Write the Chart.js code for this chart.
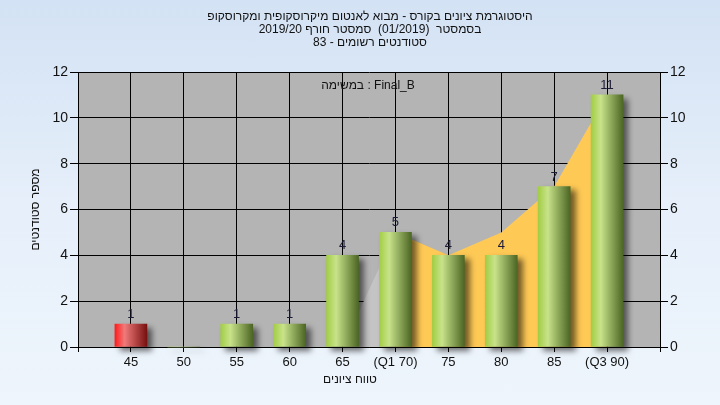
<!DOCTYPE html>
<html>
<head>
<meta charset="utf-8">
<script src="https://cdn.jsdelivr.net/npm/chart.js@4"></script>
<style>
  html, body { margin: 0; padding: 0; }
  body { width: 720px; height: 405px; background: linear-gradient(to bottom, #d3e2f4 0%, #e6effa 50%, #eef5fc 100%); overflow: hidden; }
  canvas { display: block; }
</style>
</head>
<body>
<canvas id="grades-chart" width="720" height="405"></canvas>
<script>
// grade bins (x positions 1..10 on the axis)
const gradeLabels = ['45', '50', '55', '60', '65', '(Q1 70)', '75', '80', '85', '(Q3 90)'];
const gradeValues = [45, 50, 55, 60, 65, 70, 75, 80, 85, 90];
const studentCounts = [1, 0, 1, 1, 4, 5, 4, 4, 7, 11];
// shaded curve behind the bars
const leadArea = [null, null, null, null, 0, 5, null, null, null, null];
const quartileArea = [null, null, null, null, null, 5, 4, 5, 7, 11];
const yTicks = [0, 2, 4, 6, 8, 10, 12];
const passMark = 50;

const titleLines = [
  'היסטוגרמת ציונים בקורס - מבוא לאנטום מיקרוסקופית ומקרוסקופ',
  'בסמסטר  (01/2019)  סמסטר חורף 2019/20',
  'סטודנטים רשומים - 83'
];
const taskText = 'במשימה : Final_B';
const xTitle = 'טווח ציונים';
const yTitle = 'מספר סטודנטים';

const FONT = '"Liberation Sans", Arial, "DejaVu Sans", sans-serif';

function toPoints(arr) {
  return arr.map((v, i) => ({ x: i + 1, y: v }));
}

// horizontal "cylinder" gradient for each bar
function barFill(context) {
  const chart = context.chart;
  if (!chart.chartArea || context.type !== 'data') return '#9ccc4a';
  const i = context.dataIndex;
  const cx = chart.scales.x.getPixelForValue(i + 1);
  const g = chart.ctx.createLinearGradient(cx - 16, 0, cx + 16, 0);
  if (gradeValues[i] < passMark) {
    g.addColorStop(0, '#ff1c1c');
    g.addColorStop(0.3, '#f07a7a');
    g.addColorStop(1, '#781010');
  } else {
    g.addColorStop(0, '#a2cd45');
    g.addColorStop(0.3, '#c8e38a');
    g.addColorStop(1, '#4c6624');
  }
  return g;
}

const barShadow = {
  id: 'barShadow',
  beforeDatasetDraw(chart, args) {
    if (args.meta.type !== 'bar') return;
    const ctx = chart.ctx;
    ctx.save();
    ctx.shadowColor = 'rgba(0,0,0,0.55)';
    ctx.shadowBlur = 6;
    ctx.shadowOffsetX = 5;
    ctx.shadowOffsetY = 4;
  },
  afterDatasetDraw(chart, args) {
    if (args.meta.type !== 'bar') return;
    chart.ctx.restore();
  }
};

const barLabels = {
  id: 'barLabels',
  afterDatasetsDraw(chart) {
    const ctx = chart.ctx;
    const meta = chart.getDatasetMeta(0);
    ctx.save();
    ctx.font = '13px ' + FONT;
    ctx.fillStyle = '#1c1c38';
    ctx.textAlign = 'center';
    ctx.textBaseline = 'bottom';
    meta.data.forEach((el, i) => {
      if (studentCounts[i] > 0) ctx.fillText(String(studentCounts[i]), el.x, el.y - 3);
    });
    ctx.restore();
  }
};

const textBlocks = {
  id: 'textBlocks',
  afterDraw(chart) {
    const ctx = chart.ctx;
    const area = chart.chartArea;
    const cx = (area.left + area.right) / 2;
    ctx.save();
    ctx.fillStyle = '#111';
    ctx.textAlign = 'center';
    ctx.textBaseline = 'middle';
    ctx.font = '12px ' + FONT;
    ctx.direction = 'rtl';
    titleLines.forEach((line, i) => ctx.fillText(line, cx + 1, 17 + i * 13));
    ctx.direction = 'ltr';
    ctx.fillText(taskText, cx - 1, 86);
    ctx.direction = 'rtl';
    ctx.font = '12px ' + FONT;
    ctx.fillText(xTitle, 350, 380);
    ctx.restore();
  }
};

const ctx = document.getElementById('grades-chart').getContext('2d');
window.gradesChart = new Chart(ctx, {
  data: {
    datasets: [
      {
        type: 'bar',
        label: 'students',
        data: toPoints(studentCounts),
        backgroundColor: barFill,
        borderWidth: 0,
        barThickness: 32,
        clip: false,
        order: 0
      },
      {
        type: 'line',
        label: 'quartiles',
        data: toPoints(quartileArea),
        fill: 'origin',
        backgroundColor: '#ffc955',
        borderWidth: 0,
        pointRadius: 0,
        tension: 0,
        order: 1
      },
      {
        type: 'line',
        label: 'lead',
        data: toPoints(leadArea),
        fill: 'origin',
        backgroundColor: '#c4c4c4',
        borderWidth: 0,
        pointRadius: 0,
        tension: 0,
        order: 2
      }
    ]
  },
  options: {
    responsive: false,
    animation: false,
    devicePixelRatio: 1,
    layout: { padding: { top: 72, left: 0, right: 0, bottom: 0 } },
    plugins: {
      legend: { display: false },
      tooltip: { enabled: false }
    },
    scales: {
      x: {
        type: 'linear',
        min: 0,
        max: 11,
        offset: false,
        afterFit: s => { s.height = 58; },
        afterBuildTicks: s => { s.ticks = [{ value: 0 }].concat(gradeLabels.map((l, i) => ({ value: i + 1 })), [{ value: 11 }]); },
        ticks: {
          autoSkip: false,
          maxRotation: 0,
          padding: 3,
          color: '#111',
          font: { family: FONT, size: 13 },
          callback: v => gradeLabels[v - 1] || ''
        },
        grid: { offset: false, color: '#000', lineWidth: 1, tickLength: 5, tickColor: '#000' },
        border: { color: '#000' }
      },
      y: {
        position: 'left',
        min: 0,
        max: 12,
        afterFit: s => { s.width = 78; },
        afterBuildTicks: s => { s.ticks = yTicks.map(v => ({ value: v })); },
        ticks: {
          padding: 2,
          color: '#111',
          font: { family: FONT, size: 14 }
        },
        grid: { color: '#000', lineWidth: 1, tickLength: 8, tickColor: '#000' },
        border: { color: '#000' },
        title: {
          display: true,
          text: yTitle,
          color: '#111',
          font: { family: FONT, size: 12 },
          padding: { top: 28, bottom: 0 }
        }
      },
      y2: {
        position: 'right',
        min: 0,
        max: 12,
        afterFit: s => { s.width = 60; },
        afterBuildTicks: s => { s.ticks = yTicks.map(v => ({ value: v })); },
        ticks: {
          padding: 2,
          color: '#111',
          font: { family: FONT, size: 14 }
        },
        grid: { drawOnChartArea: false, tickLength: 8, tickColor: '#000' },
        border: { color: '#000' }
      }
    }
  },
  plugins: [
    {
      id: 'plotBackground',
      beforeDraw(chart) {
        const a = chart.chartArea;
        chart.ctx.save();
        chart.ctx.fillStyle = '#b4b4b4';
        chart.ctx.fillRect(a.left, a.top, a.right - a.left, a.bottom - a.top);
        chart.ctx.restore();
      }
    },
    barShadow,
    barLabels,
    textBlocks
  ]
});
</script>
</body>
</html>
